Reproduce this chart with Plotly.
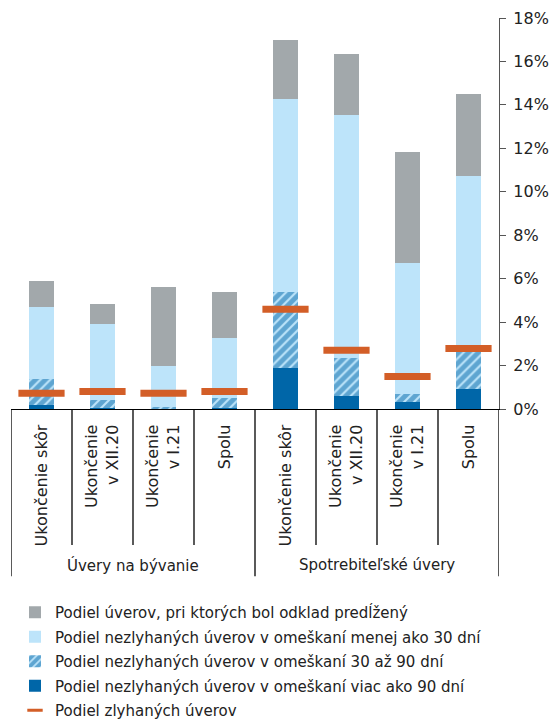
import plotly.graph_objects as go

groups = ["Úvery na bývanie", "Spotrebiteľské úvery"]
categories = ["Ukončenie skôr", "Ukončenie<br>v XII.20", "Ukončenie<br>v I.21", "Spolu",
              "Ukončenie skôr", "Ukončenie<br>v XII.20", "Ukončenie<br>v I.21", "Spolu"]

# stacked components (in %)
over90 = [0.18, 0.05, 0.03, 0.05, 1.90, 0.61, 0.34, 0.90]
d30_90 = [1.20, 0.36, 0.07, 0.44, 3.47, 1.72, 0.36, 1.74]
under30 = [3.32, 3.49, 1.90, 2.79, 8.92, 11.21, 6.02, 8.09]
extended = [1.20, 0.92, 3.60, 2.11, 2.71, 2.80, 5.11, 3.77]
defaulted = [0.72, 0.81, 0.72, 0.81, 4.59, 2.70, 1.50, 2.79]

names = [
    "Podiel úverov, pri ktorých bol odklad predĺžený",
    "Podiel nezlyhaných úverov v omeškaní menej ako 30 dní",
    "Podiel nezlyhaných úverov v omeškaní 30 až 90 dní",
    "Podiel nezlyhaných úverov v omeškaní viac ako 90 dní",
    "Podiel zlyhaných úverov",
]
yticks = [0, 2, 4, 6, 8, 10, 12, 14, 16, 18]

DARK = "#0066A8"
LIGHT = "#BDE4FA"
GRAY = "#A2A8AB"
ORANGE = "#D35E27"
TXT = "#222222"
FONT = "DejaVu Sans"

x = list(range(len(categories)))
fig = go.Figure()
bw = 0.4
fig.add_trace(go.Bar(x=x, y=over90, name=names[3], width=bw, marker=dict(color=DARK, line=dict(width=0)),
                     legendrank=4, legendgroup="d"))
fig.add_trace(go.Bar(x=x, y=d30_90, name=names[2], width=bw,
                     marker=dict(color=LIGHT, line=dict(width=0),
                                 pattern=dict(shape="/", fgcolor=DARK, bgcolor=LIGHT, size=7, solidity=0.7)),
                     legendrank=3, legendgroup="c"))
fig.add_trace(go.Bar(x=x, y=under30, name=names[1], width=bw, marker=dict(color=LIGHT, line=dict(width=0)),
                     legendrank=2, legendgroup="b"))
fig.add_trace(go.Bar(x=x, y=extended, name=names[0], width=bw, marker=dict(color=GRAY, line=dict(width=0)),
                     legendrank=1, legendgroup="a"))
fig.add_trace(go.Scatter(x=x, y=defaulted, name=names[4], mode="markers", showlegend=False,
                         marker=dict(symbol="line-ew", size=33, color=ORANGE, line=dict(color=ORANGE, width=7)),
                         legendgroup="e"))
# legend entry for the defaulted-loan marks
fig.add_trace(go.Scatter(x=[None], y=[None], name=names[4], mode="markers",
                         marker=dict(symbol="line-ew", size=11, color=ORANGE, line=dict(color=ORANGE, width=3)),
                         legendrank=5, legendgroup="e"))

# category dividers
shapes = []
for i in range(len(categories) + 1):
    big = i in (0, 4, 8)
    shapes.append(dict(type="line", xref="x", yref="paper", x0=i - 0.5, x1=i - 0.5,
                       y0=0, y1=-0.428 if big else -0.348, line=dict(color="#000000", width=1.3)))

annotations = []
for gi, g in enumerate(groups):
    annotations.append(dict(text=g, xref="x", yref="paper", x=gi * 4 + 1.5, y=-0.40,
                            showarrow=False, xanchor="center", yanchor="middle",
                            font=dict(family=FONT, size=15, color=TXT)))

fig.update_layout(
    width=552, height=724,
    margin=dict(l=11, r=53, t=18, b=315, autoexpand=False),
    paper_bgcolor="white", plot_bgcolor="white",
    barmode="stack",
    font=dict(family=FONT, size=15, color=TXT),
    shapes=shapes, annotations=annotations,
    showlegend=True,
    legend=dict(orientation="v", xref="container", yref="container",
                x=15 / 552, xanchor="left", y=1 - 596 / 724, yanchor="top",
                traceorder="grouped", tracegroupgap=2,
                font=dict(family=FONT, size=15, color=TXT), bgcolor="rgba(0,0,0,0)"),
    xaxis=dict(range=[-0.5, 7.5], tickmode="array", tickvals=x, ticktext=categories,
               tickangle=-90, showgrid=False, zeroline=False, showline=True,
               linecolor="#000000", linewidth=1.3, ticks="", ticklabelstandoff=8,
               automargin=False,
               tickfont=dict(family=FONT, size=16, color=TXT)),
    yaxis=dict(range=[0, 18], side="right", tickmode="array", tickvals=yticks,
               ticktext=[f"{v}%" for v in yticks], showgrid=False, zeroline=False,
               showline=True, linecolor="#555555", linewidth=1.3, ticks="outside",
               ticklen=6, tickcolor="#555555", tickwidth=1.3, automargin=False,
               ticklabelstandoff=4,
               tickfont=dict(family=FONT, size=16, color=TXT)),
)

fig.write_html("out.html")
